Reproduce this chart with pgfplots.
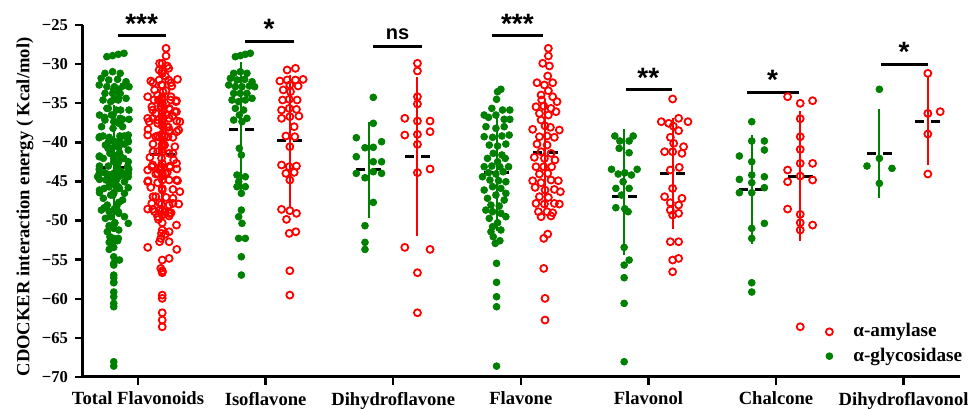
\documentclass[border=0pt]{standalone}
\usepackage{pgfplots}
\pgfplotsset{compat=1.18}
\usepackage{pgfplotstable}
\usepackage{fontspec}
\setmainfont{Liberation Serif}
\newfontfamily\sigfont{Liberation Sans}
\definecolor{gc}{RGB}{0,128,0}
\definecolor{rc}{RGB}{255,0,0}

% ---------- data: dx = horizontal offset inside the swarm, y = energy ----------
\pgfplotstableread{
dx y
-0.047 -29.05
-0.008 -28.92
0.031 -28.75
0.070 -28.62
-0.060 -31.18
-0.008 -30.97
0.044 -31.18
-0.086 -31.82
-0.034 -32.03
0.026 -31.95
0.084 -32.25
-0.099 -32.67
-0.047 -32.89
0.005 -32.89
0.063 -32.80
0.104 -32.89
-0.060 -33.74
-0.008 -33.74
0.044 -33.74
-0.073 -34.59
-0.021 -34.80
0.031 -34.59
0.084 -34.38
-0.047 -35.66
0.018 -35.87
-0.016 -36.51
-0.060 -37.15
0.005 -37.36
0.044 -36.93
-0.016 -40.77
0.000 -41.62
-0.034 -44.18
0.031 -44.40
-0.021 -45.04
-0.034 -45.67
0.031 -45.67
0.000 -46.52
0.000 -48.66
-0.021 -49.51
0.005 -50.36
-0.021 -52.28
0.031 -52.28
0.000 -54.63
0.000 -56.97
}\IsoG
\pgfplotstableread{
dx y
-0.021 -30.75
0.044 -30.54
-0.078 -32.16
-0.021 -32.03
0.044 -32.03
0.104 -31.95
0.000 -32.67
0.065 -32.80
0.005 -33.53
-0.052 -33.30
-0.005 -34.50
-0.057 -34.59
0.057 -34.59
-0.065 -35.87
-0.005 -35.66
0.052 -35.79
-0.065 -36.93
0.000 -36.72
0.071 -36.64
0.034 -38.00
-0.031 -39.19
0.039 -39.28
0.000 -40.56
-0.065 -42.90
-0.005 -43.12
0.052 -43.03
-0.031 -43.97
0.034 -43.84
0.000 -44.82
-0.065 -48.57
0.000 -48.74
0.052 -49.08
-0.026 -49.85
-0.005 -51.64
0.047 -51.43
0.000 -56.42
0.000 -59.53
}\IsoR
\pgfplotstableread{
dx y
0.034 -34.25
0.034 -37.57
-0.099 -39.41
-0.031 -40.69
0.034 -40.64
0.099 -39.92
-0.099 -41.84
0.034 -42.48
0.099 -42.48
-0.099 -43.97
-0.031 -44.53
0.034 -43.76
0.099 -43.97
0.034 -47.68
-0.031 -50.66
-0.031 -52.79
-0.031 -53.69
}\DhfG
\pgfplotstableread{
dx y
0.000 -29.90
0.000 -30.88
0.000 -34.17
0.000 -35.10
-0.099 -36.93
0.000 -37.28
0.099 -37.28
-0.099 -39.07
0.000 -38.98
0.099 -38.64
0.000 -40.26
0.000 -43.88
0.099 -43.41
-0.099 -53.43
0.099 -53.69
0.000 -56.67
0.000 -61.79
}\DhfR
\pgfplotstableread{
dx y
0.034 -33.22
0.008 -33.53
0.000 -34.50
-0.097 -36.51
-0.037 -35.66
0.047 -35.87
0.104 -35.87
-0.063 -36.81
-0.005 -36.51
0.060 -37.06
0.104 -37.06
0.060 -38.00
-0.005 -38.21
-0.083 -38.00
-0.097 -39.28
-0.031 -39.36
0.042 -39.19
0.099 -39.07
-0.057 -40.35
0.008 -40.47
0.073 -40.22
-0.026 -41.41
0.042 -41.62
-0.071 -42.05
0.068 -42.05
0.008 -42.48
-0.097 -43.12
-0.037 -43.03
0.026 -43.12
0.094 -43.12
-0.063 -43.88
-0.005 -44.05
0.052 -43.76
-0.110 -44.40
-0.052 -44.82
0.016 -44.91
0.073 -45.04
-0.031 -45.67
0.034 -45.89
-0.097 -46.10
0.073 -46.52
-0.005 -46.74
-0.071 -47.16
0.060 -47.38
-0.044 -48.02
0.021 -48.15
-0.084 -48.66
-0.031 -48.87
0.034 -49.08
0.073 -49.51
-0.057 -49.72
0.008 -50.28
-0.031 -50.79
0.034 -51.21
-0.044 -51.43
-0.026 -52.07
0.026 -52.58
-0.010 -52.92
0.000 -55.47
0.000 -57.90
0.000 -59.74
0.000 -61.02
0.000 -68.61
}\FlaG
\pgfplotstableread{
dx y
0.026 -27.98
0.026 -28.96
-0.018 -29.90
0.034 -30.24
0.021 -31.52
-0.063 -32.38
-0.005 -32.67
0.060 -32.38
0.026 -33.40
-0.031 -33.95
0.060 -34.17
-0.026 -34.59
0.094 -34.80
-0.071 -35.45
-0.010 -35.36
0.047 -35.66
-0.044 -36.30
0.026 -36.51
0.086 -36.08
-0.031 -37.15
-0.097 -38.34
0.000 -37.90
0.042 -38.08
0.112 -38.43
-0.044 -39.28
0.016 -39.19
0.073 -39.36
-0.063 -40.22
0.016 -40.35
-0.031 -41.20
0.047 -41.41
-0.084 -41.92
-0.005 -42.05
0.078 -42.26
-0.071 -43.12
-0.010 -43.12
0.052 -43.12
-0.044 -44.05
0.021 -43.97
-0.097 -44.91
-0.031 -45.16
0.047 -44.82
0.104 -44.91
-0.078 -45.76
0.000 -46.10
0.073 -46.02
0.120 -46.31
-0.044 -46.95
0.026 -47.04
-0.071 -47.81
-0.005 -47.89
0.073 -47.81
0.112 -47.89
-0.052 -48.87
0.016 -48.87
0.060 -49.00
-0.031 -49.51
0.047 -49.42
0.021 -51.73
-0.010 -52.28
-0.010 -56.12
0.000 -59.95
0.000 -62.72
}\FlaR
\pgfplotstableread{
dx y
-0.073 -39.19
0.071 -39.19
-0.034 -39.83
0.039 -39.83
-0.039 -40.77
0.039 -41.33
-0.099 -43.45
-0.047 -44.05
0.005 -43.90
0.057 -44.18
0.102 -43.45
-0.008 -45.04
-0.065 -45.89
0.039 -45.89
-0.021 -46.74
-0.065 -48.36
0.005 -48.49
0.031 -48.87
0.000 -53.43
0.039 -55.05
0.000 -55.69
0.000 -57.31
0.000 -60.59
0.000 -68.05
}\FolG
\pgfplotstableread{
dx y
0.000 -34.46
-0.089 -37.36
-0.031 -37.57
0.047 -36.93
0.120 -37.36
0.005 -37.92
0.047 -38.51
-0.018 -39.36
0.008 -40.13
0.086 -40.56
-0.063 -41.20
0.000 -41.20
0.073 -41.41
-0.018 -43.54
0.052 -43.20
0.000 -45.89
-0.063 -46.95
0.073 -47.16
-0.018 -47.72
0.047 -48.02
-0.018 -48.66
0.047 -49.08
0.000 -49.30
-0.018 -52.71
0.047 -52.71
0.000 -55.05
0.047 -54.84
0.000 -56.55
}\FolR
\pgfplotstableread{
dx y
0.000 -37.36
0.000 -39.83
0.099 -39.83
0.099 -40.98
-0.097 -41.75
0.000 -42.48
0.000 -44.18
-0.097 -44.74
0.099 -44.40
0.000 -45.16
0.099 -45.80
-0.097 -46.44
0.000 -46.44
0.099 -50.36
0.000 -51.00
0.000 -52.28
0.000 -57.95
0.000 -59.14
}\ChaG
\pgfplotstableread{
dx y
-0.099 -34.17
0.000 -35.01
0.097 -34.68
0.000 -36.98
0.000 -39.28
0.000 -40.90
0.000 -42.69
0.097 -42.69
-0.099 -43.54
-0.099 -45.04
0.000 -44.31
0.097 -44.82
-0.099 -48.53
0.000 -49.21
0.000 -50.28
0.097 -50.58
0.000 -51.21
0.000 -63.58
}\ChaR
\pgfplotstableread{
dx y
0.000 -33.22
-0.097 -43.03
0.000 -42.05
0.099 -43.33
0.000 -45.25
}\DhlG
\pgfplotstableread{
dx y
0.000 -31.18
0.000 -36.30
0.097 -36.08
0.000 -38.94
0.000 -44.05
}\DhlR
% mean and SD
\pgfplotstableread{
x y ep em
-0.19 -43.20 7.00 7.00
0.81 -38.34 7.67 7.56
1.81 -43.45 5.11 5.29
2.81 -43.88 6.52 6.52
3.81 -46.87 7.59 6.56
4.81 -46.01 5.96 6.06
5.81 -41.41 4.69 4.69
}\statG
\pgfplotstableread{
x y ep em
0.19 -41.62 7.02 6.98
1.19 -39.79 7.50 7.50
2.19 -41.84 9.25 9.21
3.19 -41.33 5.93 5.97
4.19 -43.97 6.18 6.18
5.19 -44.31 7.33 7.33
6.19 -37.28 4.61 4.69
}\statR

\pgfplotsset{
 gdot/.style={only marks, mark=*, mark size=1.7pt, gc, forget plot},
 rcirc/.style={only marks, mark=o, mark size=1.75pt, rc, mark options={line width=0.9pt}, forget plot},
}

\begin{document}
\begin{tikzpicture}
\begin{axis}[
 width=438.5pt, height=176pt, scale only axis,
 xmin=-0.431, xmax=6.442, ymin=-70, ymax=-25,
 axis x line*=bottom, axis y line*=left,
 axis line style={-, line width=1.5pt, black},
 xtick={0,1,2,3,4,5,6},
 xticklabels={Total Flavonoids,Isoflavone,Dihydroflavone,Flavone,Flavonol,Chalcone,Dihydroflavonol},
 ytick={-70,-65,-60,-55,-50,-45,-40,-35,-30,-25},
 yticklabels={−70,−65,−60,−55,-50,-45,−40,−35,−30,−25},
 tick align=outside, major tick length=4pt,
 every tick/.style={black, line width=1.2pt},
 x tick label style={font=\bfseries\fontsize{9.3}{11}\selectfont, yshift=0pt},
 y tick label style={font=\bfseries\fontsize{8.3}{9}\selectfont},
 ylabel={CDOCKER interaction energy ( Kcal/mol)},
 ylabel style={at={(axis description cs:-0.0661,0.483)}, anchor=center, font=\bfseries\fontsize{9.3}{11}\selectfont},
 clip=false,
 legend image code/.code={\draw[#1] plot coordinates {(0pt,0pt)}; \path[draw=none, fill=none] (-2.2pt,-1pt) rectangle (10pt,1pt);},
 legend style={at={(axis description cs:0.8456,0.0235)}, anchor=south west, draw=none, fill=none,
   font=\bfseries\fontsize{9.6}{11}\selectfont, row sep=0pt, inner sep=0pt},
 legend cell align=left,
]
% SD bars and means
\addplot[draw=none, mark=none, forget plot, error bars/.cd, y dir=both, y explicit,
  error bar style={draw=gc, line width=1pt}, error mark options={draw=gc, line width=1pt, mark size=3.75pt}]
  table[x=x, y=y, y error plus=ep, y error minus=em] {\statG};
\addplot[draw=none, mark=none, forget plot, error bars/.cd, y dir=both, y explicit,
  error bar style={draw=rc, line width=1pt}, error mark options={draw=rc, line width=1pt, mark size=3.75pt}]
  table[x=x, y=y, y error plus=ep, y error minus=em] {\statR};
\addplot[only marks, mark=-, mark size=6.25pt, forget plot,
  mark options={black, line width=1.5pt, dash pattern=on 4.5pt off 3.5pt}] table[x=x, y=y] {\statG};
\addplot[only marks, mark=-, mark size=6.25pt, forget plot,
  mark options={black, line width=1.5pt, dash pattern=on 4.5pt off 3.5pt}] table[x=x, y=y] {\statR};

% Total flavonoids = all compounds
\addplot[gdot] table[x expr={-0.19+1.15*\thisrow{dx}}, y=y] {\IsoG};
\addplot[gdot] table[x expr={-0.19+1.15*\thisrow{dx}}, y=y] {\DhfG};
\addplot[gdot] table[x expr={-0.19+1.15*\thisrow{dx}}, y=y] {\FlaG};
\addplot[gdot] table[x expr={-0.19+1.15*\thisrow{dx}}, y=y] {\FolG};
\addplot[gdot] table[x expr={-0.19+1.15*\thisrow{dx}}, y=y] {\ChaG};
\addplot[gdot] table[x expr={-0.19+1.15*\thisrow{dx}}, y=y] {\DhlG};
\addplot[rcirc] table[x expr={0.19+1.15*\thisrow{dx}}, y=y] {\IsoR};
\addplot[rcirc] table[x expr={0.19+1.15*\thisrow{dx}}, y=y] {\DhfR};
\addplot[rcirc] table[x expr={0.19+1.15*\thisrow{dx}}, y=y] {\FlaR};
\addplot[rcirc] table[x expr={0.19+1.15*\thisrow{dx}}, y=y] {\FolR};
\addplot[rcirc] table[x expr={0.19+1.15*\thisrow{dx}}, y=y] {\ChaR};
\addplot[rcirc] table[x expr={0.19+1.15*\thisrow{dx}}, y=y] {\DhlR};
% single classes
\addplot[gdot] table[x expr={0.81+\thisrow{dx}}, y=y] {\IsoG};
\addplot[rcirc] table[x expr={1.19+\thisrow{dx}}, y=y] {\IsoR};
\addplot[gdot] table[x expr={1.81+\thisrow{dx}}, y=y] {\DhfG};
\addplot[rcirc] table[x expr={2.19+\thisrow{dx}}, y=y] {\DhfR};
\addplot[gdot] table[x expr={2.81+\thisrow{dx}}, y=y] {\FlaG};
\addplot[rcirc] table[x expr={3.19+\thisrow{dx}}, y=y] {\FlaR};
\addplot[gdot] table[x expr={3.81+\thisrow{dx}}, y=y] {\FolG};
\addplot[rcirc] table[x expr={4.19+\thisrow{dx}}, y=y] {\FolR};
\addplot[gdot] table[x expr={4.81+\thisrow{dx}}, y=y] {\ChaG};
\addplot[rcirc] table[x expr={5.19+\thisrow{dx}}, y=y] {\ChaR};
\addplot[gdot] table[x expr={5.81+\thisrow{dx}}, y=y] {\DhlG};
\addplot[rcirc] table[x expr={6.19+\thisrow{dx}}, y=y] {\DhlR};

% significance brackets
\addplot[black, line width=1.5pt, forget plot] coordinates {(-0.157,-26.28) (0.219,-26.28)};
\addplot[black, line width=1.5pt, forget plot] coordinates {(0.839,-27.17) (1.223,-27.17)};
\addplot[black, line width=1.5pt, forget plot] coordinates {(1.842,-27.81) (2.226,-27.81)};
\addplot[black, line width=1.5pt, forget plot] coordinates {(2.774,-26.28) (3.174,-26.28)};
\addplot[black, line width=1.5pt, forget plot] coordinates {(3.824,-33.31) (4.185,-33.31)};
\addplot[black, line width=1.5pt, forget plot] coordinates {(4.773,-33.57) (5.180,-33.57)};
\addplot[black, line width=1.5pt, forget plot] coordinates {(5.823,-29.99) (6.190,-29.99)};
\node[font=\sigfont\bfseries\fontsize{14}{14}\selectfont, anchor=base] at (axis cs:0.029,-26.15) {***};
\node[font=\sigfont\bfseries\fontsize{14}{14}\selectfont, anchor=base] at (axis cs:1.027,-26.75) {*};
\node[font=\sigfont\bfseries\fontsize{10}{10}\selectfont, anchor=base] at (axis cs:2.035,-26.8) {ns};
\node[font=\sigfont\bfseries\fontsize{14}{14}\selectfont, anchor=base] at (axis cs:2.973,-26.05) {***};
\node[font=\sigfont\bfseries\fontsize{14}{14}\selectfont, anchor=base] at (axis cs:3.999,-32.95) {**};
\node[font=\sigfont\bfseries\fontsize{14}{14}\selectfont, anchor=base] at (axis cs:4.974,-33.25) {*};
\node[font=\sigfont\bfseries\fontsize{14}{14}\selectfont, anchor=base] at (axis cs:6.003,-29.65) {*};

\addlegendimage{only marks, mark=o, mark size=1.75pt, rc, mark options={line width=0.9pt}}
\addlegendentry{α-amylase}
\addlegendimage{only marks, mark=*, mark size=1.7pt, gc}
\addlegendentry{α-glycosidase}
\end{axis}
\pgfresetboundingbox
\path[use as bounding box] ([xshift=-41.5pt,yshift=-16pt]current axis.south west) rectangle ([xshift=5pt,yshift=12.5pt]current axis.north east);
\end{tikzpicture}
\end{document}
